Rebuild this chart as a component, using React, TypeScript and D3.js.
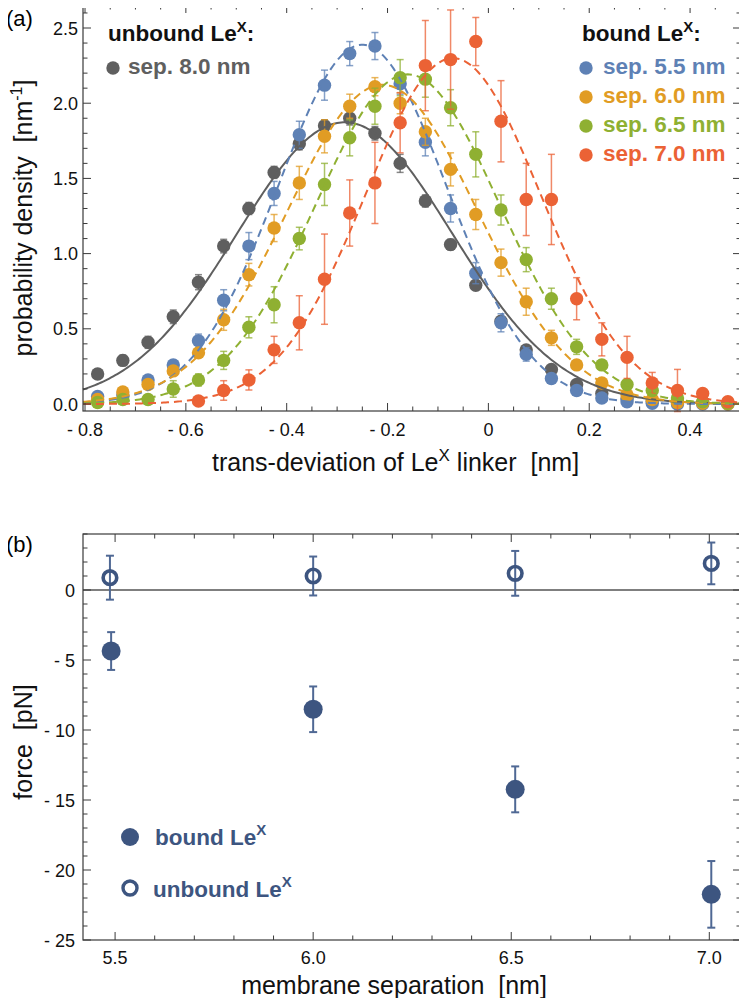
import React from 'react';
import * as d3 from 'd3';

// ---- panel (a): histogram of trans-deviation ----
const bins = [
  -0.775, -0.725, -0.675, -0.625, -0.575, -0.525, -0.475, -0.425, -0.375, -0.325,
  -0.275, -0.225, -0.175, -0.125, -0.075, -0.025, 0.025, 0.075, 0.125, 0.175,
  0.225, 0.275, 0.325, 0.375, 0.425, 0.475,
];

const sep80 = [0.20, 0.29, 0.41, 0.58, 0.81, 1.05, 1.30, 1.54, 1.73, 1.85, 1.90, 1.80, 1.60, 1.35, 1.06, 0.79, 0.55, 0.36, 0.23, 0.13, 0.07, 0.035, 0.02, 0.012, 0.008, 0.005];
const sep80Err = [0.03, 0.035, 0.04, 0.045, 0.05, 0.045, 0.04, 0.04, 0.04, 0.04, 0.045, 0.045, 0.06, 0.04, 0.035, 0.03, 0.03, 0.025, 0.02, 0.015, 0.01, 0.01, 0.01, 0.005, 0.005, 0.005];

const sep55 = [0.05, 0.06, 0.16, 0.26, 0.42, 0.69, 1.05, 1.40, 1.79, 2.12, 2.33, 2.38, 2.13, 1.74, 1.30, 0.87, 0.54, 0.33, 0.17, 0.09, 0.04, 0.015, 0.005, 0.0, 0.0, 0.0];
const sep55Err = [0.02, 0.02, 0.02, 0.03, 0.045, 0.07, 0.09, 0.08, 0.09, 0.1, 0.08, 0.09, 0.07, 0.09, 0.09, 0.07, 0.06, 0.045, 0.03, 0.025, 0.02, 0.015, 0.01, 0.01, 0.005, 0.005];

const sep60 = [0.03, 0.08, 0.13, 0.22, 0.34, 0.56, 0.86, 1.17, 1.47, 1.78, 1.98, 2.11, 2.00, 1.81, 1.56, 1.26, 0.94, 0.68, 0.44, 0.26, 0.14, 0.06, 0.03, 0.01, 0.005, 0.0];
const sep60Err = [0.02, 0.02, 0.025, 0.03, 0.03, 0.07, 0.075, 0.09, 0.11, 0.11, 0.08, 0.06, 0.07, 0.09, 0.11, 0.1, 0.09, 0.09, 0.05, 0.03, 0.03, 0.02, 0.015, 0.01, 0.01, 0.005];

const sep65 = [0.01, 0.03, 0.03, 0.10, 0.16, 0.29, 0.51, 0.66, 1.10, 1.46, 1.77, 1.98, 2.17, 2.16, 1.97, 1.66, 1.29, 0.96, 0.70, 0.38, 0.26, 0.13, 0.09, 0.04, 0.015, 0.005];
const sep65Err = [0.01, 0.02, 0.02, 0.055, 0.04, 0.06, 0.07, 0.12, 0.075, 0.14, 0.12, 0.12, 0.12, 0.12, 0.12, 0.15, 0.1, 0.08, 0.07, 0.05, 0.03, 0.02, 0.02, 0.015, 0.01, 0.005];

const sep70 = [null, null, null, null, 0.02, 0.09, 0.16, 0.36, 0.54, 0.83, 1.27, 1.47, 1.87, 2.25, 2.29, 2.41, 1.88, 1.36, 1.36, 0.70, 0.43, 0.31, 0.14, 0.09, 0.07, 0.015];
const sep70Err = [0, 0, 0, 0, 0.02, 0.065, 0.067, 0.09, 0.18, 0.30, 0.22, 0.27, 0.2, 0.3, 0.33, 0.16, 0.27, 0.24, 0.30, 0.14, 0.11, 0.14, 0.07, 0.14, 0.03, 0.01];

// gaussian fits: mean and width (nm)
const fitMean = [-0.285, -0.25, -0.21, -0.16, -0.07];
const fitSigma = [0.213, 0.167, 0.188, 0.182, 0.1735];

const seriesNames = ['sep. 8.0 nm', 'sep. 5.5 nm', 'sep. 6.0 nm', 'sep. 6.5 nm', 'sep. 7.0 nm'];
const seriesColors = ['#5f5f5f', '#5e81b5', '#e19c24', '#8fb032', '#eb6235'];
const seriesValues = [sep80, sep55, sep60, sep65, sep70];
const seriesErrors = [sep80Err, sep55Err, sep60Err, sep65Err, sep70Err];

// ---- panel (b): force vs separation ----
const sepBound = [5.49, 6.0, 6.51, 7.005];
const forceBound = [-4.36, -8.52, -14.24, -21.74];
const forceBoundErr = [1.35, 1.63, 1.64, 2.38];
const sepUnbound = [5.487, 6.0, 6.51, 7.005];
const forceUnbound = [0.88, 1.0, 1.19, 1.9];
const forceUnboundErr = [1.57, 1.39, 1.6, 1.49];

const FONT = "'Liberation Sans', Arial, Helvetica, sans-serif";
const frameColor = '#3a3a3a';
const navy = '#3d5580';
const navyBar = '#4f6894';

function Ticks({ x0, x1, y0, y1, xs, ys }: any) {
  const out: any[] = [];
  const len = (major: boolean) => (major ? 8 : 4.5);
  xs.forEach((t: any, i: number) => {
    const L = len(t.major);
    out.push(<line key={'xb' + i} x1={t.p} x2={t.p} y1={y1} y2={y1 - L} />);
    out.push(<line key={'xt' + i} x1={t.p} x2={t.p} y1={y0} y2={y0 + L} />);
  });
  ys.forEach((t: any, i: number) => {
    const L = len(t.major);
    out.push(<line key={'yl' + i} x1={x0} x2={x0 + L} y1={t.p} y2={t.p} />);
    out.push(<line key={'yr' + i} x1={x1} x2={x1 - L} y1={t.p} y2={t.p} />);
  });
  return <g stroke={frameColor} strokeWidth={1}>{out}</g>;
}

function tickSet(scale: any, start: number, stop: number, step: number, majors: number[]) {
  const n = Math.round((stop - start) / step);
  return d3.range(n + 1).map((k) => {
    const v = +(start + k * step).toFixed(4);
    return { v, p: scale(v), major: majors.some((m) => Math.abs(m - v) < 1e-6) };
  });
}

const minusFmt = (v: number, digits: number) =>
  v < 0 ? '- ' + Math.abs(v).toFixed(digits) : v === 0 ? '0' : v.toFixed(digits);

function PanelA() {
  const L = 83, R = 741, T = 5, B = 411;
  const x = d3.scaleLinear().domain([-0.804, 0.501]).range([L, R]);
  const y = d3.scaleLinear().domain([-0.0465, 2.653]).range([B, T]);
  const xMajor = [-0.8, -0.6, -0.4, -0.2, 0, 0.2, 0.4];
  const yMajor = [0, 0.5, 1, 1.5, 2, 2.5];
  const xs = tickSet(x, -0.8, 0.5, 0.05, xMajor);
  const ys = tickSet(y, 0, 2.6, 0.1, yMajor);

  const grid = d3.range(-0.804, 0.501, 0.004);
  const fitLine = d3.line<number[]>().x((d) => x(d[0])).y((d) => y(d[1]));

  return (
    <g>
      <text x={6} y={26} fontSize={22} fontFamily={FONT}>(a)</text>
      {seriesValues.map((vals, s) => (
        <g key={'s' + s}>
          {vals.map((v, i) => {
            if (v === null) return null;
            const e = seriesErrors[s][i];
            const cx = x(bins[i]);
            const ya = y(v - e), yb = y(v + e);
            return (
              <g key={i} stroke={seriesColors[s]} strokeOpacity={0.75} strokeWidth={1.5}>
                <line x1={cx} x2={cx} y1={ya} y2={yb} />
                <line x1={cx - 3.5} x2={cx + 3.5} y1={ya} y2={ya} />
                <line x1={cx - 3.5} x2={cx + 3.5} y1={yb} y2={yb} />
              </g>
            );
          })}
          {vals.map((v, i) =>
            v === null ? null : (
              <circle key={'c' + i} cx={x(bins[i])} cy={y(v)} r={6.7} fill={seriesColors[s]} />
            )
          )}
        </g>
      ))}
      {fitMean.map((mu, s) => {
        const sg = fitSigma[s];
        const pts = grid.map((g) => [g, Math.exp(-((g - mu) ** 2) / (2 * sg * sg)) / (sg * Math.sqrt(2 * Math.PI))]);
        return (
          <path
            key={'f' + s}
            d={fitLine(pts) as string}
            fill="none"
            stroke={seriesColors[s]}
            strokeWidth={2}
            strokeDasharray={s === 0 ? undefined : '8,5'}
          />
        );
      })}
      <rect x={L} y={T} width={R - L} height={B - T} fill="none" stroke={frameColor} strokeWidth={1.2} />
      <Ticks x0={L} x1={R} y0={T} y1={B} xs={xs} ys={ys} />
      <g fontFamily={FONT} fontSize={18} fill="#111">
        {xMajor.map((v) => (
          <text key={'xl' + v} x={x(v)} y={436} textAnchor="middle" style={{ whiteSpace: 'pre' }}>{minusFmt(v, 1)}</text>
        ))}
        {yMajor.map((v) => (
          <text key={'yl' + v} x={78} y={y(v) + 6.5} textAnchor="end">{v.toFixed(1)}</text>
        ))}
      </g>
      <text x={212} y={471} fontSize={25} fontFamily={FONT} fill="#111" style={{ whiteSpace: 'pre' }}>
        trans-deviation of Le<tspan dy={-10} fontSize={17}>X</tspan><tspan dy={10}> linker  [nm]</tspan>
      </text>
      <text transform="translate(32,218) rotate(-90)" textAnchor="middle" fontSize={25} fontFamily={FONT} fill="#111" style={{ whiteSpace: 'pre' }}>
        probability density  [nm<tspan dy={-10} fontSize={16}>-1</tspan><tspan dy={10}>]</tspan>
      </text>
      {/* legends */}
      <g fontFamily={FONT} fontWeight="bold" fontSize={22.5}>
        <text x={108} y={41} fill="#111">
          unbound Le<tspan dy={-9} fontSize={15}>X</tspan><tspan dy={9}>:</tspan>
        </text>
        <circle cx={113} cy={68} r={6.7} fill={seriesColors[0]} />
        <text x={128} y={74} fill={seriesColors[0]}>{seriesNames[0]}</text>
        <text x={582} y={41} fill="#111">
          bound Le<tspan dy={-9} fontSize={15}>X</tspan><tspan dy={9}>:</tspan>
        </text>
        {[1, 2, 3, 4].map((s, k) => (
          <g key={'lg' + s}>
            <circle cx={586} cy={68 + k * 29} r={6.7} fill={seriesColors[s]} />
            <text x={603} y={74 + k * 29} fill={seriesColors[s]}>{seriesNames[s]}</text>
          </g>
        ))}
      </g>
    </g>
  );
}

function PanelB() {
  const L = 83, R = 741, T = 534, B = 940;
  const x = d3.scaleLinear().domain([5.419, 7.08]).range([L, R]);
  const y = d3.scaleLinear().domain([-25, 4]).range([B, T]);
  const xMajor = [5.5, 6, 6.5, 7];
  const yMajor = [-25, -20, -15, -10, -5, 0];
  const xs = tickSet(x, 5.5, 7.0, 0.1, xMajor);
  const ys = tickSet(y, -25, 4, 1, yMajor);

  const bar = (cx: number, v: number, e: number, k: string) => {
    const ya = y(v - e), yb = y(v + e);
    return (
      <g key={k} stroke={navyBar} strokeWidth={2}>
        <line x1={cx} x2={cx} y1={ya} y2={yb} />
        <line x1={cx - 4} x2={cx + 4} y1={ya} y2={ya} />
        <line x1={cx - 4} x2={cx + 4} y1={yb} y2={yb} />
      </g>
    );
  };

  return (
    <g>
      <text x={6} y={552} fontSize={22} fontFamily={FONT}>(b)</text>
      <line x1={L} x2={R} y1={y(0)} y2={y(0)} stroke="#555" strokeWidth={1.5} />
      {sepUnbound.map((s, i) => bar(x(s), forceUnbound[i], forceUnboundErr[i], 'ub' + i))}
      {sepBound.map((s, i) => bar(x(s), forceBound[i], forceBoundErr[i], 'bb' + i))}
      {sepUnbound.map((s, i) => (
        <circle key={'uc' + i} cx={x(s)} cy={y(forceUnbound[i])} r={6.8} fill="none" stroke={navy} strokeWidth={3.6} />
      ))}
      {sepBound.map((s, i) => (
        <circle key={'bc' + i} cx={x(s)} cy={y(forceBound[i])} r={9.5} fill={navy} />
      ))}
      <rect x={L} y={T} width={R - L} height={B - T} fill="none" stroke={frameColor} strokeWidth={1.2} />
      <Ticks x0={L} x1={R} y0={T} y1={B} xs={xs} ys={ys} />
      <g fontFamily={FONT} fontSize={18} fill="#111">
        {xMajor.map((v) => (
          <text key={'xl' + v} x={x(v)} y={964} textAnchor="middle">{v.toFixed(1)}</text>
        ))}
        {yMajor.map((v) => (
          <text key={'yl' + v} x={75} y={y(v) + 6.5} textAnchor="end" style={{ whiteSpace: 'pre' }}>{minusFmt(v, 0)}</text>
        ))}
      </g>
      <text x={394} y={994} textAnchor="middle" fontSize={25} fontFamily={FONT} fill="#111" style={{ whiteSpace: 'pre' }}>
        membrane separation  [nm]
      </text>
      <text transform="translate(32,742) rotate(-90)" textAnchor="middle" fontSize={25} fontFamily={FONT} fill="#111" style={{ whiteSpace: 'pre' }}>
        force  [pN]
      </text>
      <g fontFamily={FONT} fontWeight="bold" fontSize={22.5} fill={navy}>
        <circle cx={130} cy={837} r={9} fill={navy} />
        <text x={155} y={845}>
          bound Le<tspan dy={-10} fontSize={15}>X</tspan>
        </text>
        <circle cx={130} cy={888} r={7} fill="none" stroke={navy} strokeWidth={3.4} />
        <text x={153} y={897}>
          unbound Le<tspan dy={-10} fontSize={15}>X</tspan>
        </text>
      </g>
    </g>
  );
}

export default function App() {
  return (
    <svg width={747} height={1006} viewBox="0 0 747 1006" style={{ display: 'block', margin: '-8px', background: '#fff' }}>
      <rect width={747} height={1006} fill="#fff" />
      <PanelA />
      <PanelB />
    </svg>
  );
}
